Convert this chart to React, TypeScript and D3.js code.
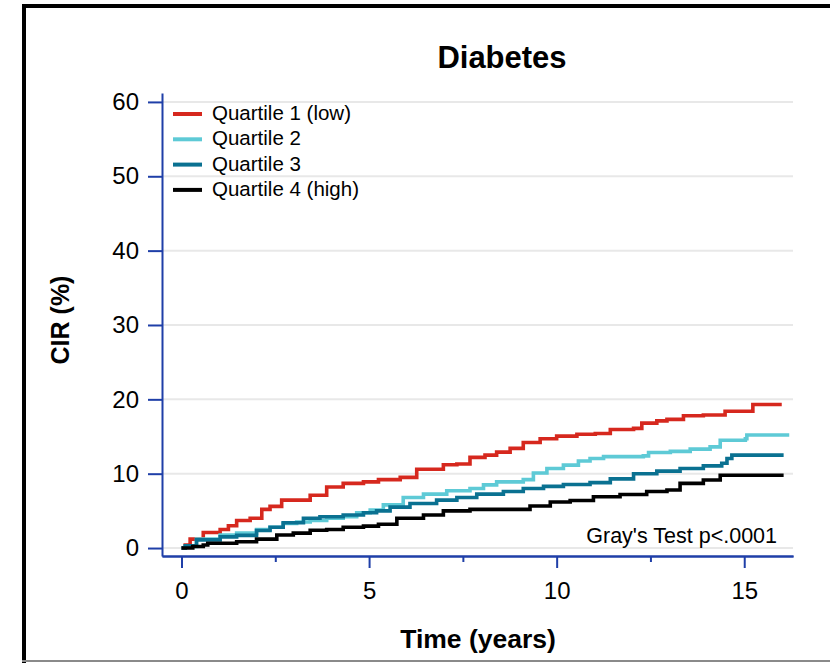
import React, { useEffect, useRef } from 'react';
import * as d3 from 'd3';

// cumulative incidence (%), step-after
const q1Time = [0, 0.1, 0.23, 0.58, 1.03, 1.25, 1.47, 1.83, 2.14, 2.36, 2.67, 3.43, 3.87, 4.31, 4.85, 5.25, 5.83, 6.27, 6.98, 7.34, 7.69, 8.09, 8.4, 8.76, 9.11, 9.56, 10.0, 10.54, 11.03, 11.43, 12.05, 12.27, 12.67, 12.94, 13.38, 13.91, 14.49, 15.23, 16.0];
const q1Value = [0, 0.4, 1.2, 2.1, 2.5, 3.0, 3.7, 4.0, 5.2, 5.6, 6.45, 7.1, 8.2, 8.7, 8.9, 9.2, 9.5, 10.6, 11.2, 11.3, 12.2, 12.5, 12.9, 13.4, 14.2, 14.7, 15.05, 15.3, 15.4, 15.95, 16.1, 16.8, 17.1, 17.3, 17.8, 17.9, 18.4, 19.3, 19.3];

const q2Time = [0, 0.1, 0.4, 1.03, 1.47, 2.0, 2.36, 2.71, 3.07, 3.43, 3.87, 4.31, 4.67, 5.03, 5.38, 5.91, 6.45, 7.07, 7.69, 8.05, 8.4, 9.11, 9.38, 9.74, 10.18, 10.58, 10.89, 11.25, 12.31, 12.45, 13.03, 13.56, 14.09, 14.36, 15.03, 15.07, 16.2];
const q2Value = [0, 0.2, 1.2, 1.75, 2.0, 2.5, 2.8, 3.3, 3.5, 3.7, 4.0, 4.2, 4.75, 5.1, 5.8, 6.8, 7.25, 7.7, 8.0, 8.5, 8.9, 9.2, 10.1, 10.7, 11.15, 11.7, 12.05, 12.3, 12.4, 12.85, 13.0, 13.3, 13.6, 14.5, 14.7, 15.2, 15.2];

const q3Time = [0, 0.1, 0.4, 1.03, 1.47, 2.0, 2.36, 2.71, 3.25, 3.69, 4.31, 4.85, 5.2, 5.56, 6.09, 6.8, 7.34, 7.87, 8.58, 9.11, 9.65, 10.18, 10.89, 11.43, 12.05, 12.67, 13.29, 13.91, 14.4, 14.54, 14.67, 16.05];
const q3Value = [0, 0.3, 1.1, 1.5, 1.7, 2.35, 2.8, 3.4, 4.0, 4.2, 4.45, 4.75, 5.0, 5.5, 6.0, 6.45, 6.8, 7.25, 7.6, 8.0, 8.3, 8.55, 8.8, 9.3, 10.0, 10.35, 10.7, 11.05, 11.4, 12.05, 12.5, 12.5];

const q4Time = [0, 0.3, 0.58, 0.7, 1.47, 2.0, 2.54, 2.98, 3.43, 3.87, 4.31, 4.85, 5.25, 5.74, 6.45, 6.98, 7.69, 9.29, 9.83, 10.36, 10.98, 11.69, 12.4, 12.94, 13.29, 13.91, 14.36, 16.05];
const q4Value = [0, 0.2, 0.4, 0.65, 0.85, 1.2, 1.75, 2.0, 2.4, 2.5, 2.8, 2.95, 3.2, 4.0, 4.45, 5.0, 5.2, 5.65, 6.2, 6.4, 6.9, 7.2, 7.6, 7.8, 8.7, 9.15, 9.8, 9.8];

const seriesNames = ['Quartile 1 (low)', 'Quartile 2', 'Quartile 3', 'Quartile 4 (high)'];
const seriesColors = ['#d6281e', '#5ecad6', '#0a7191', '#000000'];
const yTicks = [0, 10, 20, 30, 40, 50, 60];
const xTicks = [0, 5, 10, 15];
const xMinorTicks = [2.5, 7.5, 12.5];

const FONT = '"Liberation Sans", Arial, sans-serif';
const AXIS = '#1f3fa8';

export default function App() {
  const ref = useRef(null);

  useEffect(() => {
    const svg = d3.select(ref.current);
    svg.selectAll('*').remove();

    const x = d3.scaleLinear().domain([-0.52, 16.3]).range([162, 793]);
    const y = d3.scaleLinear().domain([-1.07, 61.2]).range([556, 93]);

    // frame
    svg.append('line').attr('x1', 24).attr('x2', 24).attr('y1', 4).attr('y2', 663)
      .attr('stroke', '#000').attr('stroke-width', 4);
    svg.append('line').attr('x1', 22).attr('x2', 830).attr('y1', 6).attr('y2', 6)
      .attr('stroke', '#000').attr('stroke-width', 4);
    svg.append('line').attr('x1', 22).attr('x2', 830).attr('y1', 661).attr('y2', 661)
      .attr('stroke', '#8a8a8a').attr('stroke-width', 2);

    // grid
    svg.append('g').selectAll('line').data(yTicks).enter().append('line')
      .attr('x1', 163).attr('x2', 793)
      .attr('y1', d => y(d)).attr('y2', d => y(d))
      .attr('stroke', '#e8e8e8').attr('stroke-width', 2);

    // curves
    const data = [
      q1Time.map((t, i) => [t, q1Value[i]]),
      q2Time.map((t, i) => [t, q2Value[i]]),
      q3Time.map((t, i) => [t, q3Value[i]]),
      q4Time.map((t, i) => [t, q4Value[i]]),
    ];
    const line = d3.line().x(d => x(d[0])).y(d => y(d[1])).curve(d3.curveStepAfter);
    data.forEach((s, i) => {
      svg.append('path').attr('d', line(s)).attr('fill', 'none')
        .attr('stroke', seriesColors[i]).attr('stroke-width', 3.6);
    });

    // axes
    const yAxis = svg.append('g').attr('transform', 'translate(162,0)')
      .call(d3.axisLeft(y).tickValues(yTicks).tickSize(14).tickSizeOuter(0).tickPadding(9));
    const xAxis = svg.append('g').attr('transform', 'translate(0,556)')
      .call(d3.axisBottom(x).tickValues(xTicks).tickSize(12).tickSizeOuter(0).tickPadding(14));
    const xMinor = svg.append('g').attr('transform', 'translate(0,556)')
      .call(d3.axisBottom(x).tickValues(xMinorTicks).tickSize(6).tickSizeOuter(0).tickFormat(() => ''));
    [yAxis, xAxis, xMinor].forEach(a => {
      a.selectAll('path').attr('stroke', AXIS).attr('stroke-width', 2);
      a.selectAll('line').attr('stroke', AXIS).attr('stroke-width', 2);
      a.selectAll('text').attr('fill', '#000').style('font-family', FONT).style('font-size', '24px');
    });

    // titles
    svg.append('text').attr('x', 502).attr('y', 68).attr('text-anchor', 'middle')
      .style('font-family', FONT).style('font-size', '31px').style('font-weight', 'bold')
      .text('Diabetes');
    svg.append('text').attr('x', 478).attr('y', 648).attr('text-anchor', 'middle')
      .style('font-family', FONT).style('font-size', '26.5px').style('font-weight', 'bold')
      .text('Time (years)');
    svg.append('text').attr('transform', 'translate(69,320) rotate(-90)').attr('text-anchor', 'middle')
      .style('font-family', FONT).style('font-size', '25px').style('font-weight', 'bold')
      .text('CIR (%)');

    // legend
    const leg = svg.append('g').selectAll('g').data(seriesNames).enter().append('g')
      .attr('transform', (d, i) => `translate(0,${120 + i * 25.3})`);
    leg.append('line').attr('x1', 173).attr('x2', 202).attr('y1', -6).attr('y2', -6)
      .attr('stroke', (d, i) => seriesColors[i]).attr('stroke-width', 4);
    leg.append('text').attr('x', 212).attr('y', 0)
      .style('font-family', FONT).style('font-size', '20.5px').text(d => d);

    svg.append('text').attr('x', 777).attr('y', 543).attr('text-anchor', 'end')
      .style('font-family', FONT).style('font-size', '21.5px').text("Gray's Test p<.0001");
  });

  return (
    <div id='chartArea' style={{ position: 'absolute', left: 0, top: 0 }}>
      <svg ref={ref} width={830} height={663} style={{ display: 'block', background: '#fff' }}></svg>
    </div>
  );
}
